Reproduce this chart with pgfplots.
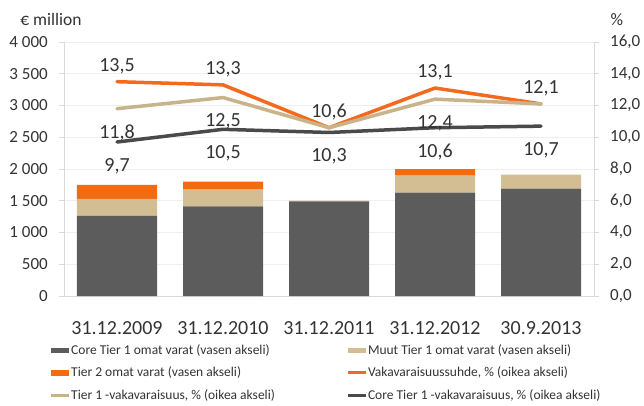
\documentclass[border=0pt]{standalone}
\usepackage{pgfplots}
\pgfplotsset{compat=1.18}
\usepackage{pgfplotstable}
\usepackage{fontspec}
\setmainfont{Carlito}

\definecolor{coredark}{HTML}{5C5C5C}
\definecolor{tanbar}{HTML}{D3BE94}
\definecolor{orngbar}{HTML}{F26B10}
\definecolor{oline}{HTML}{F36A1E}
\definecolor{tline}{HTML}{C8B38B}
\definecolor{dline}{HTML}{4A4A4A}
\definecolor{gridc}{HTML}{EFEFEF}
\definecolor{axisc}{HTML}{D9D9D9}
\definecolor{txt}{HTML}{333333}

\pgfplotsset{
  barleg/.style={legend image code/.code={\fill[##1] (0pt,-2.8pt) rectangle (18pt,2.8pt);}},
  lineleg/.style={legend image code/.code={\draw[##1] (0pt,0pt) -- (18pt,0pt);}},
}

\pgfplotstableread{
x core muut tier2
0 1260 270 220
1 1410 275 115
2 1490 12 0
3 1630 265 105
4 1690 220 0
}\bars

\pgfplotstableread{
x val lab
0 13.5 13,5
1 13.3 13,3
2 10.6 10,6
3 13.1 13,1
4 12.1 12,1
}\orangeT

\pgfplotstableread{
x val lab
0 11.8 11,8
1 12.5 12,5
2 10.6 {}
3 12.4 12,4
4 12.1 {}
}\tanT

\pgfplotstableread{
x val lab
0 9.7 9,7
1 10.5 10,5
2 10.3 10,3
3 10.6 10,6
4 10.7 10,7
}\darkT

\begin{document}
\begin{tikzpicture}
\useasboundingbox (-64pt,-109pt) rectangle (580pt,296pt);
\begin{axis}[
  scale only axis, width=530pt, height=254pt,
  xmin=-0.5, xmax=4.5, ymin=0, ymax=4000,
  ybar stacked, bar width=80pt,
  axis y line*=left, axis x line*=bottom,
  axis line style={axisc, line width=0.8pt},
  xtick={0,1,2,3,4},
  xticklabels={31.12.2009,31.12.2010,31.12.2011,31.12.2012,30.9.2013},
  xtick style={draw=none},
  xticklabel style={font=\fontsize{20}{24}\selectfont, text=txt, anchor=north, inner sep=0pt, yshift=-20.5pt},
  ytick={0,500,1000,1500,2000,2500,3000,3500,4000},
  yticklabels={0,500,1 000,1 500,2 000,2 500,3 000,3 500,4 000},
  ytick style={axisc, line width=0.8pt},
  tick align=outside, major tick length=5pt,
  yticklabel style={font=\fontsize{17}{20}\selectfont, text=txt, anchor=east, inner sep=0pt, xshift=-11pt},
  ymajorgrids, grid style={gridc, line width=0.8pt},
  ylabel={€ million},
  every axis y label/.style={at={(axis description cs:-0.0245,1.087)}, anchor=center,
    font=\fontsize{17.5}{20}\selectfont, text=txt},
  legend columns=2,
  legend cell align=left,
  legend style={at={(axis description cs:-0.0283,-0.183)}, anchor=north west,
    draw=none, fill=none, inner sep=0pt, row sep=7pt,
    font=\fontsize{13.5}{16}\selectfont, text=txt,
    nodes={inner xsep=1pt, inner ysep=2pt},
    /tikz/every even column/.append style={column sep=70pt}},
]
\addplot[fill=coredark, draw=none, barleg] table[x=x,y=core]{\bars};
\addlegendentry{Core Tier 1 omat varat (vasen akseli)}
\addplot[fill=tanbar, draw=none, barleg] table[x=x,y=muut]{\bars};
\addlegendentry{Muut Tier 1 omat varat (vasen akseli)}
\addplot[fill=orngbar, draw=none, barleg] table[x=x,y=tier2]{\bars};
\addlegendentry{Tier 2 omat varat (vasen akseli)}
\addlegendimage{oline, line width=3pt, lineleg}
\addlegendentry{Vakavaraisuussuhde, \% (oikea akseli)}
\addlegendimage{tline, line width=3pt, lineleg}
\addlegendentry{Tier 1 -vakavaraisuus, \% (oikea akseli)}
\addlegendimage{dline, line width=3pt, lineleg}
\addlegendentry{Core Tier 1 -vakavaraisuus, \% (oikea akseli)}
\end{axis}

\begin{axis}[
  scale only axis, width=530pt, height=254pt,
  xmin=-0.5, xmax=4.5, ymin=0, ymax=16,
  axis y line*=right, axis x line=none,
  axis line style={axisc, line width=0.8pt},
  ytick={0,2,4,6,8,10,12,14,16},
  ytick style={axisc, line width=0.8pt},
  tick align=outside, major tick length=5pt,
  yticklabel style={font=\fontsize{17}{20}\selectfont, text=txt, anchor=west, inner sep=0pt, xshift=11pt,
    /pgf/number format/.cd, fixed, fixed zerofill, precision=1, use comma, assume math mode=true},
  ylabel={\%},
  every axis y label/.style={at={(axis description cs:1.043,1.087)}, anchor=center,
    font=\fontsize{17.5}{20}\selectfont, text=txt},
  nodes near coords,
  every node near coord/.append style={font=\fontsize{20}{24}\selectfont, text=txt, inner sep=0pt},
]
\addplot[oline, line width=3.5pt, line join=round, line cap=round, point meta=explicit symbolic,
  every node near coord/.append style={anchor=south, yshift=6pt}] table[x=x,y=val,meta=lab]{\orangeT};
\addplot[tline, line width=3.5pt, line join=round, line cap=round, point meta=explicit symbolic,
  every node near coord/.append style={anchor=north, yshift=-14.5pt}] table[x=x,y=val,meta=lab]{\tanT};
\addplot[dline, line width=3.5pt, line join=round, line cap=round, point meta=explicit symbolic,
  every node near coord/.append style={anchor=north, yshift=-14.5pt}] table[x=x,y=val,meta=lab]{\darkT};
\end{axis}
\end{tikzpicture}
\end{document}
